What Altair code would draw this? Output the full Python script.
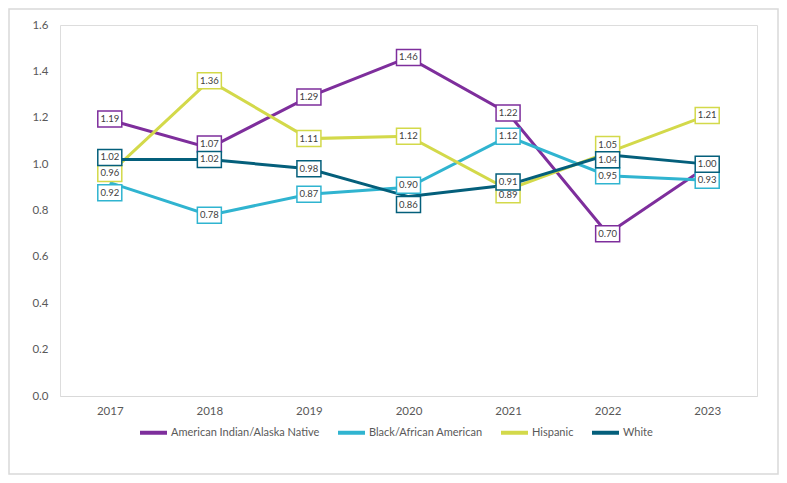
import altair as alt
import pandas as pd

years = ["2017", "2018", "2019", "2020", "2021", "2022", "2023"]
series_names = ["American Indian/Alaska Native", "Black/African American", "Hispanic", "White"]
ai_values = [1.19, 1.07, 1.29, 1.46, 1.22, 0.70, 0.99]
black_values = [0.92, 0.78, 0.87, 0.90, 1.12, 0.95, 0.93]
hispanic_values = [0.96, 1.36, 1.11, 1.12, 0.89, 1.05, 1.21]
white_values = [1.02, 1.02, 0.98, 0.86, 0.91, 1.04, 1.00]
y_ticks = [0.0, 0.2, 0.4, 0.6, 0.8, 1.0, 1.2, 1.4, 1.6]

# which data labels are visible in the reference (AI 2023 label is hidden)
label_shown = [
    [1, 1, 1, 1, 1, 1, 0],
    [1, 1, 1, 1, 1, 1, 1],
    [1, 1, 1, 1, 1, 1, 1],
    [1, 1, 1, 1, 1, 1, 1],
]

colors = ["#7E2E9C", "#30B4D0", "#D3D94A", "#045F7B"]

# label nudges in pixels, positive = downward (style only)
label_dy = [
    [-1, -4, 0, 0, 0, 0, 0],
    [10, 0, 0, -2, 0, 0, 0],
    [0, 0, 0, 0, 5, -8, 0],
    [-2, 0, 0, 8, -3, 5, 0],
]

W, H = 697, 371
Y_MAX = 1.6
FONT = "Lato"

all_values = [ai_values, black_values, hispanic_values, white_values]
rows = []
for name, vals, dys, shown in zip(series_names, all_values, label_dy, label_shown):
    for yr, v, dy, s in zip(years, vals, dys, shown):
        rows.append({"year": yr, "series": name, "value": v, "dy": dy, "shown": s})
df = pd.DataFrame(rows)

x_enc = alt.X(
    "year:O",
    scale=alt.Scale(type="point", padding=0.5),
    sort=years,
    axis=alt.Axis(
        title=None, labelAngle=0, ticks=False, domain=True, domainColor="#D9D9D9",
        domainWidth=1, labelPadding=9, labelFontSize=11.5, labelColor="#595959",
        labelFont=FONT,
    ),
)
y_enc = alt.Y(
    "value:Q",
    scale=alt.Scale(domain=[0, Y_MAX], nice=False, zero=True),
    axis=alt.Axis(
        title=None, values=y_ticks, format=".1f", grid=False, domain=False, ticks=False,
        labelPadding=12, labelFontSize=11.5, labelColor="#595959", labelFont=FONT,
    ),
)
color_scale = alt.Scale(domain=series_names, range=colors)

base = alt.Chart(df)

lines = base.mark_line(strokeWidth=3).encode(
    x=x_enc,
    y=y_enc,
    color=alt.Color(
        "series:N", scale=color_scale, sort=series_names,
        legend=alt.Legend(
            title=None, orient="none", direction="horizontal", legendX=78, legendY=392,
            symbolType="stroke", symbolSize=729, symbolStrokeWidth=4,
            labelFontSize=11, labelColor="#595959", labelFont=FONT,
            labelOffset=2, columnPadding=10, columns=4,
        ),
    ),
    detail="series:N",
)

layers = [lines]
box_shape = "M-1.5,-1L1.5,-1L1.5,1L-1.5,1Z"
for name in series_names:
    sub = base.transform_filter(
        (alt.datum.series == name) & (alt.datum.shown == 1)
    ).transform_calculate(
        label_pos=f"datum.value - datum.dy * {Y_MAX} / {H}"
    )
    boxes = sub.mark_point(
        shape=box_shape, size=256, fill="white", fillOpacity=1, strokeWidth=1.5, opacity=1,
    ).encode(
        x=alt.X("year:O", sort=years),
        y=alt.Y("label_pos:Q"),
        stroke=alt.Stroke("series:N", scale=color_scale, legend=None),
    )
    texts = sub.mark_text(fontSize=9.5, color="#404040", font=FONT, baseline="middle").encode(
        x=alt.X("year:O", sort=years),
        y=alt.Y("label_pos:Q"),
        text=alt.Text("value:Q", format=".2f"),
    )
    layers += [boxes, texts]

border = alt.Chart(pd.DataFrame({"a": [0]})).mark_rect(
    fill="transparent", stroke="#D9D9D9", strokeWidth=1.5
).encode(
    x=alt.value(-51), x2=alt.value(W + 21), y=alt.value(-16), y2=alt.value(H + 78),
)

chart = alt.layer(border, *layers).properties(
    width=W, height=H,
    autosize=alt.AutoSizeParams(type="none"),
    padding={"left": 52, "top": 17, "right": 22, "bottom": 79},
).configure_view(stroke=None).configure(font=FONT)

chart.save("out.html", embed_options={"renderer": "svg", "actions": False})
